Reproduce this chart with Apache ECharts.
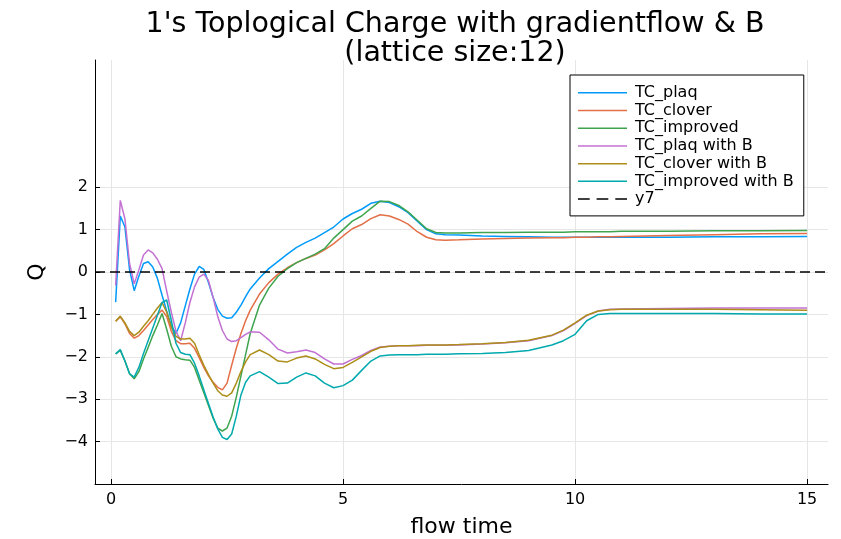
<!DOCTYPE html>
<html>
<head>
<meta charset="utf-8">
<script src="https://cdn.jsdelivr.net/npm/echarts@6/dist/echarts.min.js"></script>
<style>html,body{margin:0;padding:0;background:#fff}#c{width:841px;height:539px}</style>
</head>
<body>
<div id="c"></div>
<script>
const flowTime = [0.1,0.2,0.3,0.4,0.5,0.6,0.7,0.8,0.9,1.0,1.1,1.2,1.3,1.4,1.5,1.6,1.7,1.8,1.9,2.0,2.1,2.2,2.3,2.4,2.5,2.6,2.7,2.8,2.9,3.0,3.2,3.4,3.6,3.8,4.0,4.2,4.4,4.6,4.8,5.0,5.2,5.4,5.6,5.8,6.0,6.2,6.4,6.6,6.8,7.0,7.2,7.5,8.0,8.5,9.0,9.5,9.75,10.0,10.25,10.5,10.75,11,12,13,14,15];

const tcPlaq = [-0.71,1.32,1.06,0.05,-0.44,-0.10,0.20,0.24,0.12,-0.15,
  -0.55,-0.92,-1.28,-1.45,-1.20,-0.80,-0.40,-0.05,0.13,0.06,
  -0.25,-0.60,-0.88,-1.04,-1.09,-1.08,-0.95,-0.78,-0.58,-0.40,
  -0.14,0.08,0.25,0.42,0.58,0.70,0.80,0.93,1.06,1.25,
  1.38,1.48,1.62,1.67,1.64,1.54,1.40,1.20,1.00,0.90,0.88,
  0.87,0.85,0.84,0.83,0.82,0.82,0.82,0.82,0.82,0.82,0.82,0.82,0.83,0.83,0.84];

const tcClover = [-1.16,-1.06,-1.22,-1.45,-1.56,-1.50,-1.38,-1.25,-1.12,-1.00,
  -0.90,-1.05,-1.40,-1.62,-1.69,-1.69,-1.68,-1.80,-2.02,-2.25,
  -2.45,-2.60,-2.72,-2.78,-2.62,-2.20,-1.80,-1.45,-1.15,-0.90,
  -0.52,-0.25,-0.05,0.10,0.22,0.32,0.40,0.52,0.67,0.85,
  1.02,1.12,1.26,1.35,1.32,1.24,1.13,0.95,0.82,0.76,0.75,
  0.76,0.78,0.79,0.80,0.81,0.81,0.82,0.82,0.83,0.83,0.84,0.86,0.88,0.90,0.91];

const tcImproved = [-1.93,-1.85,-2.10,-2.40,-2.52,-2.35,-2.05,-1.78,-1.50,-1.25,
  -0.98,-1.35,-1.75,-2.00,-2.05,-2.07,-2.08,-2.25,-2.55,-2.85,
  -3.15,-3.45,-3.68,-3.75,-3.68,-3.40,-2.95,-2.45,-1.95,-1.45,
  -0.78,-0.38,-0.10,0.08,0.22,0.32,0.42,0.55,0.80,1.00,
  1.20,1.32,1.50,1.67,1.66,1.57,1.42,1.22,1.02,0.93,0.92,
  0.92,0.93,0.93,0.94,0.94,0.94,0.95,0.95,0.95,0.95,0.96,0.96,0.97,0.97,0.98];

const tcPlaqB = [-0.32,1.69,1.25,0.20,-0.28,0.05,0.40,0.52,0.45,0.30,
  0.08,-0.45,-0.95,-1.40,-1.62,-1.20,-0.72,-0.35,-0.12,-0.05,
  -0.20,-0.60,-1.05,-1.38,-1.58,-1.64,-1.62,-1.55,-1.47,-1.41,
  -1.42,-1.60,-1.82,-1.91,-1.88,-1.84,-1.90,-2.05,-2.17,-2.17,
  -2.06,-1.97,-1.85,-1.77,-1.75,-1.74,-1.74,-1.74,-1.73,-1.73,-1.73,
  -1.72,-1.70,-1.67,-1.62,-1.50,-1.38,-1.21,-1.03,-0.92,-0.88,-0.87,-0.86,-0.85,-0.85,-0.85];

const tcCloverB = [-1.16,-1.04,-1.20,-1.40,-1.50,-1.42,-1.28,-1.15,-1.00,-0.85,
  -0.72,-0.95,-1.30,-1.52,-1.58,-1.58,-1.56,-1.68,-1.95,-2.20,
  -2.42,-2.62,-2.80,-2.90,-2.93,-2.85,-2.62,-2.35,-2.12,-1.95,
  -1.84,-1.95,-2.10,-2.12,-2.03,-1.98,-2.05,-2.18,-2.28,-2.25,
  -2.13,-2.00,-1.87,-1.78,-1.75,-1.74,-1.74,-1.73,-1.72,-1.72,-1.72,
  -1.71,-1.69,-1.66,-1.61,-1.49,-1.37,-1.20,-1.02,-0.92,-0.89,-0.88,-0.88,-0.88,-0.89,-0.90];

const tcImprovedB = [-1.93,-1.83,-2.10,-2.40,-2.48,-2.25,-1.92,-1.62,-1.32,-1.02,
  -0.72,-0.66,-1.15,-1.68,-1.90,-1.94,-1.95,-2.15,-2.45,-2.78,
  -3.10,-3.42,-3.70,-3.90,-3.95,-3.82,-3.40,-2.90,-2.60,-2.45,
  -2.35,-2.48,-2.63,-2.62,-2.48,-2.38,-2.45,-2.62,-2.73,-2.68,
  -2.55,-2.32,-2.10,-1.98,-1.96,-1.95,-1.95,-1.95,-1.94,-1.94,-1.94,
  -1.93,-1.92,-1.90,-1.85,-1.72,-1.62,-1.47,-1.15,-1.00,-0.98,-0.98,-0.98,-0.98,-0.99,-0.99];

const y7Value = 0;
const xTicks = [0, 5, 10, 15];
const yTicks = [-4, -3, -2, -1, 0, 1, 2];
const xMin = -0.345, xMax = 15.45;
const yMin = -5, yMax = 5;

const seriesNames = ['TC_plaq','TC_clover','TC_improved','TC_plaq with B','TC_clover with B','TC_improved with B'];
const seriesValues = [tcPlaq, tcClover, tcImproved, tcPlaqB, tcCloverB, tcImprovedB];
const colors = ['#009AFA','#E36F47','#3EA44E','#C271D2','#AC8E18','#00A9AD'];

const FONT = 'DejaVu Sans';
const fmt = v => String(v).replace('-', '\u2212');
const solidIcon = 'path://M0,0h49v1.5h-49z';
const dashIcon = 'path://M0,0h11.7v1.5h-11.7z M18.6,0h11.7v1.5h-11.7z M37.3,0h11.7v1.5h-11.7z';

const series = seriesNames.map((name, i) => ({
  name: name,
  type: 'line',
  data: flowTime.map((t, j) => [t, seriesValues[i][j]]),
  symbol: 'none',
  showSymbol: false,
  color: colors[i],
  lineStyle: { width: 1.5, color: colors[i] },
  animation: false
}));
series.push({
  name: 'y7',
  type: 'line',
  data: [[xMin, y7Value], [xMax, y7Value]],
  symbol: 'none',
  showSymbol: false,
  color: '#000',
  lineStyle: { width: 1.5, color: '#000', type: [10, 5] },
  animation: false
});

const legendData = seriesNames.map(n => ({ name: n, icon: solidIcon }));
legendData.push({ name: 'y7', icon: dashIcon });

const chart = echarts.init(document.getElementById('c'), null, { renderer: 'canvas' });
chart.setOption({
  animation: false,
  backgroundColor: '#fff',
  title: {
    text: "1's Toplogical Charge with gradientflow & B\n(lattice size:12)",
    left: 455, top: 10, textAlign: 'center', padding: 0,
    textStyle: { fontFamily: FONT, fontSize: 28.5, fontWeight: 'normal', color: '#000', lineHeight: 29 }
  },
  grid: { left: 95, right: 13, top: 60, bottom: 55, containLabel: false, outerBoundsMode: 'none' },
  legend: {
    orient: 'vertical', left: 570, top: 75,
    backgroundColor: '#fff', borderColor: '#000', borderWidth: 1, borderRadius: 0,
    padding: [9, 10, 8, 8],
    symbolKeepAspect: true,
    itemWidth: 49, itemHeight: 14, itemGap: 0,
    itemStyle: { borderWidth: 0 },
    textStyle: { fontFamily: FONT, fontSize: 16, lineHeight: 17.7, color: '#000', padding: [0, 0, 0, 3] },
    data: legendData
  },
  xAxis: {
    type: 'value', min: xMin, max: xMax,
    name: 'flow time', nameLocation: 'middle', nameGap: 32,
    nameTextStyle: { fontFamily: FONT, fontSize: 22, color: '#000' },
    axisLine: { show: true, onZero: false, lineStyle: { color: '#000', width: 1 } },
    axisTick: { show: true, inside: true, length: 5, customValues: xTicks, lineStyle: { color: '#000' } },
    axisLabel: { customValues: xTicks, margin: 8, fontFamily: FONT, fontSize: 16, color: '#000', formatter: fmt },
    splitLine: { show: true, lineStyle: { color: '#e6e6e6', width: 1 } }
  },
  yAxis: {
    type: 'value', min: yMin, max: yMax,
    name: 'Q', nameLocation: 'middle', nameGap: 47,
    nameTextStyle: { fontFamily: FONT, fontSize: 22, color: '#000' },
    axisLine: { show: true, onZero: false, lineStyle: { color: '#000', width: 1 } },
    axisTick: { show: true, inside: true, length: 5, customValues: yTicks, lineStyle: { color: '#000' } },
    axisLabel: { customValues: yTicks, margin: 7, fontFamily: FONT, fontSize: 16, color: '#000', formatter: fmt },
    splitLine: { show: true, lineStyle: { color: '#e6e6e6', width: 1 } }
  },
  series: series
});
</script>
</body>
</html>
